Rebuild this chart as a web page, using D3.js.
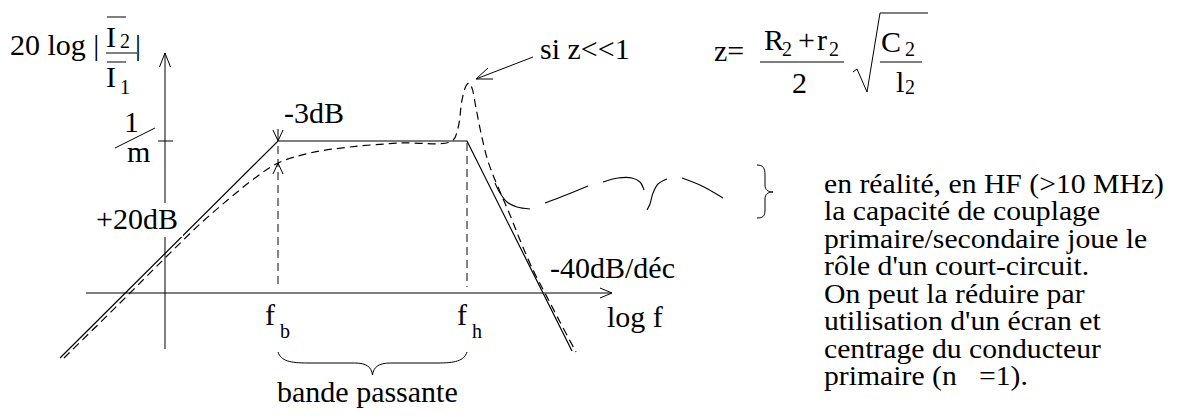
<!DOCTYPE html>
<html><head><meta charset="utf-8">
<script src="https://cdn.jsdelivr.net/npm/d3@7"></script>
<style>
html,body{margin:0;padding:0;background:#fff;}
</style></head>
<body>
<script>
// ---- data (x in decades of log f, y in dB) ----
const fbLogF = 1.13;
const fhLogF = 3.02;
const plateauDb = 30.4;
const asymptoteLogF = [-1.05, fbLogF, fhLogF, 4.07];
const asymptoteDb   = [-13, plateauDb, plateauDb, -11.6];
const realLogF = [-1.01,-0.45,0,0.35,0.65,0.90,1.13,1.45,1.85,2.35,2.87,2.93,2.97,3.01,3.04,3.07,3.11,3.16,3.22,3.28,3.33,3.45,3.55,3.68,3.81,3.95,4.11];
const realDb   = [-13,-2,7,13.8,19,23,26,28,29.2,30,30.4,33,38.6,41.4,42,41,37,32,27,23.6,21.2,15.6,10.6,4.6,-0.4,-5.8,-11.8];
// hand drawn HF "real" response segments
const hfSegLogF = [
  [3.30,3.35,3.42,3.52,3.65],
  [3.80,4.01,4.23],
  [4.38,4.53,4.67,4.75,4.79],
  [4.82,4.85,4.88,4.93,5.02],
  [5.17,5.37,5.58]
];
const hfSegDb = [
  [22,20,18.2,17.2,16.8],
  [18,19.6,21.4],
  [22.2,23,23,22.2,20.6],
  [16.6,17.8,20,21.8,22.8],
  [23,21.4,19]
];
const axisLogF = [-0.79, 4.47];
const axisDb = [-11.2, 48];
const noteLines = [
  "en réalité, en HF (>10 MHz)",
  "la capacité de couplage",
  "primaire/secondaire joue le",
  "rôle d'un court-circuit.",
  "On peut la réduire par",
  "utilisation d'un écran et",
  "centrage du conducteur",
  "primaire (n\u2002 =1)."
];

const FONT = "'Liberation Serif', Tinos, 'Times New Roman', 'DejaVu Serif', serif";
const W = 1179, H = 418;
const svg = d3.select("body").append("svg").attr("width", W).attr("height", H);
svg.append("rect").attr("width", W).attr("height", H).attr("fill", "#fff");

const x = d3.scaleLinear().domain([0, 1]).range([165, 265]);
const y = d3.scaleLinear().domain([0, 10]).range([293, 243]);

const ink = "#000";
const line = d3.line().x(d => x(d[0])).y(d => y(d[1]));
const smooth = d3.line().x(d => x(d[0])).y(d => y(d[1])).curve(d3.curveCatmullRom.alpha(0.5));
const zip = (a, b) => a.map((v, i) => [v, b[i]]);

function seg(x1, y1, x2, y2, opts = {}) {
  return svg.append("line").attr("x1", x1).attr("y1", y1).attr("x2", x2).attr("y2", y2)
    .attr("stroke", opts.c || ink).attr("stroke-width", opts.w || 1.2)
    .attr("stroke-dasharray", opts.dash || null);
}
function txt(xx, yy, s, size = 30, anchor = "start", parent = svg) {
  return parent.append("text").attr("x", xx).attr("y", yy).attr("font-size", size)
    .attr("font-family", FONT).attr("fill", ink)
    .attr("text-anchor", anchor).text(s);
}

// axes
const x0 = x(0), y0 = y(0);
seg(x0, y(axisDb[0]), x0, y(axisDb[1]), {w: 1});
seg(x(axisLogF[0]), y0, x(axisLogF[1]), y0, {w: 1.2});
svg.append("path").attr("d", `M${x0-5.5},${y(axisDb[1])+14} L${x0},${y(axisDb[1])} L${x0+5.5},${y(axisDb[1])+14}`)
  .attr("fill", "none").attr("stroke", ink).attr("stroke-width", 1);
svg.append("path").attr("d", `M${x(axisLogF[1])-12},${y0-5} L${x(axisLogF[1])},${y0} L${x(axisLogF[1])-12},${y0+5}`)
  .attr("fill", "none").attr("stroke", ink).attr("stroke-width", 1);
seg(x0 - 7, y(plateauDb), x0 + 8, y(plateauDb), {w: 1});

// vertical dashed lines at fb, fh
seg(x(fbLogF), y(plateauDb) + 5, x(fbLogF), y0 - 4, {dash: "8,5", c: "#333", w: 1.2});
seg(x(fhLogF), y(plateauDb) + 2, x(fhLogF), y0 - 6, {dash: "8,5", c: "#333", w: 1.2});

// asymptote
svg.append("path").attr("d", line(zip(asymptoteLogF, asymptoteDb)))
  .attr("fill", "none").attr("stroke", ink).attr("stroke-width", 1.2);
// real response (dashed)
svg.append("path").attr("d", smooth(zip(realLogF, realDb)))
  .attr("fill", "none").attr("stroke", ink).attr("stroke-width", 1.2).attr("stroke-dasharray", "8,5");
// HF segments
hfSegLogF.forEach((s, i) => {
  svg.append("path").attr("d", smooth(zip(s, hfSegDb[i])))
    .attr("fill", "none").attr("stroke", ink).attr("stroke-width", 1.1);
});

// -3dB arrows
const fbx = x(fbLogF), py = y(plateauDb);
seg(fbx, py - 12, fbx, py, {w: 1});
svg.append("path").attr("d", `M${fbx-5},${py-11} L${fbx},${py} L${fbx+5},${py-11}`).attr("fill","none").attr("stroke",ink).attr("stroke-width",1);
const realAtFb = y(realDb[realLogF.indexOf(fbLogF)]);
svg.append("path").attr("d", `M${fbx-5},${realAtFb+11} L${fbx},${realAtFb} L${fbx+5},${realAtFb+11}`).attr("fill","none").attr("stroke",ink).attr("stroke-width",1);

// "si z<<1" arrow to peak
const pkI = realDb.indexOf(d3.max(realDb));
const pkx = x(realLogF[pkI]) + 7, pky = y(realDb[pkI]) - 4;
seg(533, 57, pkx, pky, {w: 1});
svg.append("path").attr("d", `M${pkx+12},${pky-11} L${pkx},${pky} L${pkx+17},${pky}`).attr("fill","none").attr("stroke",ink).attr("stroke-width",1);

// bottom brace between fb and fh
const fhx = x(fhLogF), bmid = (fbx + fhx) / 2, by = 352;
svg.append("path").attr("d",
  `M${fbx},${by} C${fbx+3},${by+9} ${fbx+12},${by+11} ${fbx+30},${by+11} L${bmid-18},${by+11} C${bmid-6},${by+11} ${bmid-1},${by+15} ${bmid},${by+23}` +
  ` C${bmid+1},${by+15} ${bmid+6},${by+11} ${bmid+18},${by+11} L${fhx-30},${by+11} C${fhx-12},${by+11} ${fhx-3},${by+9} ${fhx},${by}`)
  .attr("fill","none").attr("stroke",ink).attr("stroke-width",1);

// right brace
svg.append("path").attr("d",
  "M757,165 C763,165 765,168 765,175 L765,185 C765,190 768,192 773,192 C768,192 765,194 765,199 L765,210 C765,216 763,218 757,218")
  .attr("fill","none").attr("stroke",ink).attr("stroke-width",1);

// ---- texts ----
txt(10, 55, "20 log |");
txt(106, 47, "I"); txt(120, 48, "2", 20);
seg(107, 17, 126, 17, {w: 1});
seg(106, 53, 137, 53, {w: 1});
txt(106, 87, "I"); txt(120, 94, "1", 20);
seg(107, 62, 126, 62, {w: 1});
txt(135, 55, "|");

txt(124, 132, "1");
seg(115, 148, 155, 128, {w: 1});
txt(127, 162, "m");

svg.append("rect").attr("x", 95).attr("y", 203).attr("width", 88).attr("height", 34).attr("fill", "#fff");
txt(96, 229, "+20dB");
txt(284, 123, "-3dB");
txt(540, 59, "si z<<1");
txt(550, 278, "-40dB/déc");

txt(265, 325, "f"); txt(280, 338, "b", 20);
txt(457, 325, "f"); txt(472, 338, "h", 20);
txt(607, 327, "log f");
txt(277, 402, "bande passante");

// formula
txt(714, 61, "z=");
txt(764, 50, "R"); txt(782, 56, "2", 20); txt(798, 50, "+"); txt(817, 50, "r"); txt(829, 56, "2", 20);
seg(760, 62, 844, 62, {w: 1});
txt(792, 93, "2");
svg.append("path").attr("d", "M853,72 L857,69 L867,92 L880,13 L928,13").attr("fill","none").attr("stroke",ink).attr("stroke-width",1);
txt(881, 52, "C"); txt(905, 56, "2", 20);
seg(880, 62, 922, 62, {w: 1});
txt(896, 92, "l"); txt(905, 94, "2", 20);

// right note (slightly widened to match reference)
const note = svg.append("g").attr("transform", "translate(824,0) scale(1.1,1)");
noteLines.forEach((s, i) => txt(0, 193 + i * 27.5, s, 27, "start", note));
</script>
</body></html>
